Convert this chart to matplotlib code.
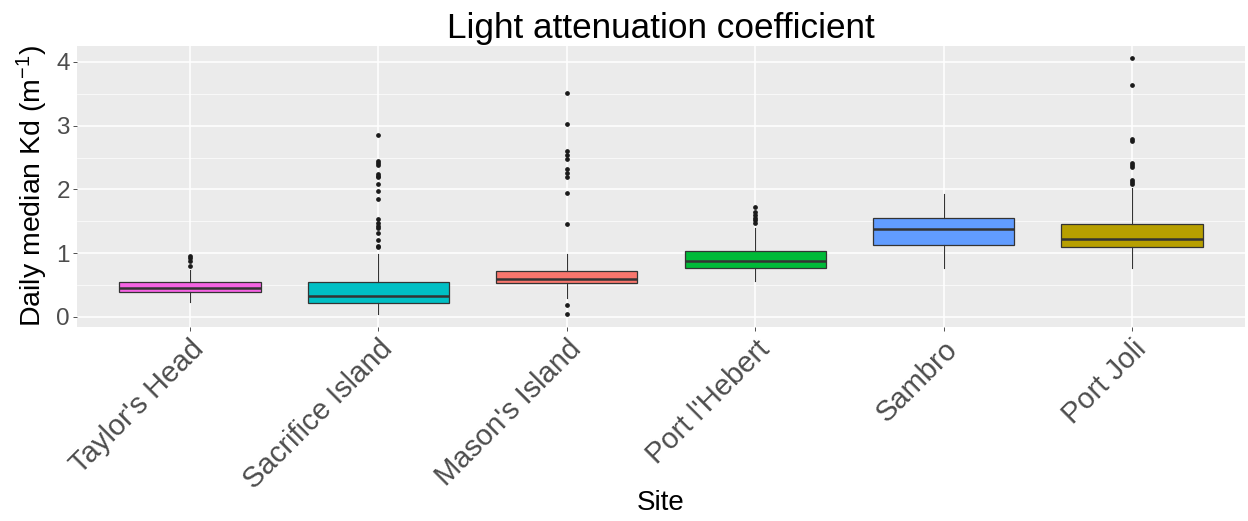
import matplotlib.pyplot as plt
import numpy as np

# ===================== data =====================
sites = ["Taylor's Head", "Sacrifice Island", "Mason's Island",
         "Port l'Hebert", "Sambro", "Port Joli"]
colors = ["#F564E3", "#00BFC4", "#F8766D", "#00BA38", "#619CFF", "#B79F00"]

q1 = [0.39, 0.22, 0.53, 0.77, 1.135, 1.09]
med = [0.45, 0.33, 0.60, 0.88, 1.38, 1.22]
q3 = [0.555, 0.545, 0.72, 1.036, 1.55, 1.465]
whislo = [0.23, 0.04, 0.29, 0.57, 0.775, 0.775]
whishi = [0.74, 0.98, 0.98, 1.40, 1.93, 2.03]
fliers = [
    [0.957, 0.92, 0.884, 0.80],
    [2.857, 2.45, 2.42, 2.39, 2.245, 2.21, 2.19, 2.09, 1.97, 1.85,
     1.53, 1.47, 1.43, 1.40, 1.31, 1.20, 1.11, 1.09],
    [0.18, 0.05, 3.51, 3.03, 2.61, 2.54, 2.47, 2.32, 2.26, 2.19, 1.95, 1.455],
    [1.72, 1.64, 1.60, 1.56, 1.52, 1.47],
    [],
    [4.06, 3.64, 2.79, 2.76, 2.42, 2.39, 2.355, 2.15, 2.12, 2.09],
]

# ===================== style =====================
plt.rcParams["font.family"] = ["Liberation Sans", "DejaVu Sans"]
plt.rcParams["mathtext.fontset"] = "custom"
plt.rcParams["mathtext.rm"] = "Liberation Sans"
plt.rcParams["mathtext.it"] = "Liberation Sans"

fig = plt.figure(figsize=(12.48, 5.21), dpi=100)
ax = fig.add_axes([0.0617, 0.373, 0.9359, 0.5387])
ax.set_facecolor("#EBEBEB")
for s in ax.spines.values():
    s.set_visible(False)

stats = []
for i in range(len(sites)):
    stats.append(dict(label=sites[i], q1=q1[i], med=med[i], q3=q3[i],
                      whislo=whislo[i], whishi=whishi[i],
                      fliers=np.array(fliers[i])))

pos = np.arange(1, len(sites) + 1)
bp = ax.bxp(stats, positions=pos, widths=0.75, patch_artist=True,
            showcaps=False,
            boxprops=dict(edgecolor="#333333", linewidth=0.9),
            whiskerprops=dict(color="#333333", linewidth=0.8),
            medianprops=dict(color="#333333", linewidth=1.8),
            flierprops=dict(marker="o", markersize=2.4, markerfacecolor="#1a1a1a",
                            markeredgecolor="#1a1a1a", linestyle="none"))
for patch, col in zip(bp["boxes"], colors):
    patch.set_facecolor(col)
for k in ["boxes", "whiskers", "medians", "fliers"]:
    for a in bp[k]:
        a.set_zorder(3)

ax.set_xlim(0.4, 6.6)
ax.set_ylim(-0.152, 4.25)
ax.set_yticks([0, 1, 2, 3, 4])
ax.set_yticks([0.5, 1.5, 2.5, 3.5], minor=True)
ax.set_xticks(pos)
ax.set_xticklabels(sites, rotation=45, ha="right", va="top",
                   rotation_mode="anchor")
ax.grid(which="major", color="white", linewidth=1.1, zorder=0)
ax.grid(which="minor", axis="y", color="white", linewidth=0.5, zorder=0)
ax.set_axisbelow(True)
ax.tick_params(axis="both", which="major", labelcolor="#4D4D4D",
               color="#333333", length=3, width=0.6, pad=2)
ax.tick_params(axis="y", labelsize=17.5)
ax.tick_params(axis="x", labelsize=21, pad=3)
ax.tick_params(which="minor", length=0)

ax.set_title("Light attenuation coefficient", fontsize=25.3, pad=6)
ax.set_xlabel("Site", fontsize=20, va="center")
ax.xaxis.set_label_coords(0.5, -0.628)
ax.set_ylabel("Daily median Kd (m$^{-1}$)", fontsize=20.5)
ax.yaxis.set_label_coords(-0.0231, 0.5)

fig.savefig("out.png", dpi=100)
